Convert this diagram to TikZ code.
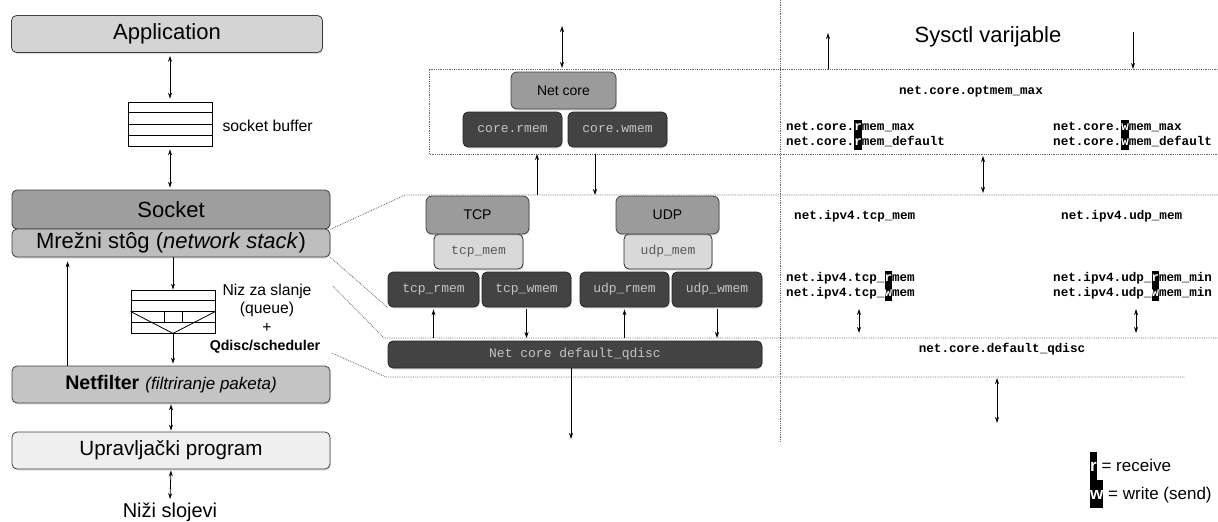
\documentclass[tikz,border=0pt]{standalone}
\usepackage{fontspec}
\setmainfont{Liberation Sans}
\setmonofont{Liberation Mono}
\usetikzlibrary{arrows.meta,calc,shadows}
\definecolor{appgray}{HTML}{D4D4D4}
\definecolor{sockgray}{HTML}{9E9E9E}
\definecolor{stackgray}{HTML}{BDBDBD}
\definecolor{filtgray}{HTML}{C4C4C4}
\definecolor{drvgray}{HTML}{EFEFEF}
\definecolor{netgray}{HTML}{9B9B9B}
\definecolor{memdark}{HTML}{434343}
\definecolor{memtext}{HTML}{C4C4C4}
\definecolor{memlight}{HTML}{D9D9D9}
% white letter on a black bar
\newcommand{\hlch}[1]{{\setlength{\fboxsep}{0pt}\colorbox{black}{\textcolor{white}{\strut #1}}}}
\begin{document}
\begin{tikzpicture}[x=1pt,y=-1pt,
  softshadow/.style={drop shadow={shadow xshift=0.8pt,shadow yshift=-1.5pt,opacity=0.25}},
  lbox/.style={draw=black!75,line width=0.8pt,rounded corners=5pt,minimum width=318pt,minimum height=37pt,inner sep=0pt,softshadow,font=\fontsize{22}{26}\selectfont},
  gbox/.style={draw=black!75,line width=0.8pt,rounded corners=6pt,fill=netgray,minimum width=103pt,minimum height=38pt,inner sep=0pt,softshadow,font=\fontsize{14}{17}\selectfont},
  dbox/.style={draw=black!85,line width=0.8pt,rounded corners=5pt,fill=memdark,text=memtext,minimum height=35pt,inner sep=0pt,softshadow,font=\ttfamily\fontsize{13}{16}\selectfont},
  lmem/.style={dbox,fill=memlight,text=black!65},
  sysvar/.style={anchor=west,inner sep=0pt,align=left,font=\ttfamily\bfseries\fontsize{12.6}{15}\selectfont},
  sepline/.style={densely dotted,black!60,line width=0.8pt},
  biarrow/.style={{Stealth[length=6pt,width=4pt]}-{Stealth[length=6pt,width=4pt]},line width=0.8pt},
  onearrow/.style={-{Stealth[length=6pt,width=4pt]},line width=0.8pt}]
  \useasboundingbox (0,0) rectangle (1218,522);
  % dotted bands
  \coordinate (coreTL) at (429,69);
  \coordinate (coreTR) at (1218,69);
  \coordinate (coreBL) at (429,154);
  \coordinate (coreBR) at (1218,154);
  \coordinate (tcpTL) at (405,195);
  \coordinate (tcpTR) at (1218,195);
  \coordinate (qdTL) at (384,338);
  \coordinate (qdTR) at (1218,338);
  \coordinate (qdBL) at (386,377);
  \coordinate (qdBR) at (1185,377);
  \coordinate (sepT) at (780,0);
  \coordinate (sepB) at (780,442);
  \draw[sepline] (sepT) -- (sepB);
  \draw[sepline] (coreTR) -- (coreTL) -- (coreBL) -- (coreBR);
  % left column
  \node[lbox,fill=appgray,minimum width=311pt] (app) at (167,34) {Application};
  \node[draw,line width=0.8pt,minimum width=84pt,minimum height=44pt,inner sep=0pt] (sockbuf) at (170,124) {};
  \foreach \k in {1,2,3}
    \draw[line width=0.8pt] ($(sockbuf.north west)!\k/4!(sockbuf.south west)$) -- ($(sockbuf.north east)!\k/4!(sockbuf.south east)$);
  \node[anchor=west,font=\fontsize{15.8}{19}\selectfont] (sbtext) at (219,126) {socket buffer};
  \node[lbox,fill=sockgray,minimum height=39pt] (socket) at (171,209.5) {Socket};
  \node[lbox,fill=stackgray,minimum height=28pt] (netstack) at (171,243) {Mrežni stôg (\textit{network stack})};
  \node[draw,line width=0.8pt,minimum width=84pt,minimum height=43pt,inner sep=0pt] (queue) at (173,311.5) {};
  \foreach \k in {1,2,3}
    \draw[line width=0.8pt] ($(queue.north west)!\k/4!(queue.south west)$) -- ($(queue.north east)!\k/4!(queue.south east)$);
  \draw[line width=0.8pt] (queue.west) -- (queue.south) -- (queue.east);
  \foreach \dx in {-9,9}
    \draw[line width=0.8pt] ([xshift=\dx pt]queue.center) -- ([xshift=\dx pt,yshift=-10.75pt]queue.center);
  \node[align=center,font=\fontsize{15.7}{18.5}\selectfont] (qtext) at (267,308) {Niz za slanje\\(queue)\\+};
  \node[font=\bfseries\fontsize{14.2}{17}\selectfont] (qsched) at (265,347) {Qdisc/scheduler};
  \node[lbox,fill=filtgray] (netfilter) at (171,384.5) {{\fontsize{19.6}{24}\selectfont\textbf{Netfilter}} {\fontsize{17}{22}\selectfont\itshape(filtriranje paketa)}};
  \node[lbox,fill=drvgray,font=\fontsize{20.6}{24}\selectfont] (driver) at (171,450.5) {Upravljački program};
  \node[font=\fontsize{20}{24}\selectfont] (lower) at (170,512) {Niži slojevi};
  \draw[biarrow,shorten <=3pt,shorten >=3pt] (app.south -| sockbuf.north) -- (sockbuf.north);
  \draw[biarrow,shorten <=3pt,shorten >=2pt] (sockbuf.south) -- (sockbuf.south |- socket.north);
  \draw[onearrow] (netstack.south -| queue.north) -- (queue.north);
  \draw[onearrow,shorten >=2pt] (queue.south) -- (queue.south |- netfilter.north);
  \draw[onearrow,shorten >=4pt] ([xshift=56pt]netfilter.north west) -- ([xshift=56pt]netstack.south west);
  \draw[biarrow,shorten <=1pt,shorten >=1pt] (netfilter.south) -- (driver.north);
  \draw[biarrow,shorten <=1pt] (driver.south) -- (lower.north);
  % middle column
  \node[gbox,minimum width=105pt,minimum height=37pt] (netcore) at (563.5,90.5) {Net core};
  \node[dbox,minimum width=99pt] (corermem) at (512.5,129.5) {core.rmem};
  \node[dbox,minimum width=99pt] (corewmem) at (617.5,129.5) {core.wmem};
  \node[lmem,minimum width=89pt] (tcpmem) at (478.5,251.5) {tcp\_mem};
  \node[gbox] (tcp) at (477.5,215) {TCP};
  \node[lmem,minimum width=88pt] (udpmem) at (668,251.5) {udp\_mem};
  \node[gbox] (udp) at (667.5,215) {UDP};
  \node[dbox,minimum width=91pt] (tcprmem) at (433.5,289.5) {tcp\_rmem};
  \node[dbox,minimum width=89pt] (tcpwmem) at (526.5,289.5) {tcp\_wmem};
  \node[dbox,minimum width=89pt] (udprmem) at (624.5,289.5) {udp\_rmem};
  \node[dbox,minimum width=90pt] (udpwmem) at (717,289.5) {udp\_wmem};
  \node[dbox,minimum width=374pt,minimum height=27pt] (qdisc) at (575,354.5) {Net core default\_qdisc};
  \draw[sepline] (socket.south east) -- (tcpTL) -- (tcpTR);
  \draw[sepline] (netstack.south east) -- (tcprmem.south west);
  \draw[sepline] ([shift={(18pt,-6pt)}]qtext.north east) -- (qdTL) -- (qdTR);
  \draw[sepline] ([shift={(8pt,-6pt)}]qsched.east) -- (qdBL) -- (qdBR);
  \coordinate (corein) at (562,26);
  \draw[biarrow,shorten >=1pt] (corein) -- (corein |- coreTL);
  \coordinate (rxup) at (537,195);
  \draw[onearrow] (rxup) -- (rxup |- coreBL);
  \coordinate (txdown) at (595,154);
  \draw[onearrow] (txdown) -- (txdown |- tcpTL);
  \draw[onearrow,shorten >=2pt] (tcprmem.south |- qdTL) -- (tcprmem.south);
  \draw[onearrow,shorten <=2pt] (tcpwmem.south) -- (tcpwmem.south |- qdTL);
  \draw[onearrow,shorten >=2pt] (udprmem.south |- qdTL) -- (udprmem.south);
  \draw[onearrow,shorten <=2pt] (udpwmem.south) -- (udpwmem.south |- qdTL);
  \coordinate (qdout) at (571,439);
  \draw[onearrow] (qdisc.south -| qdout) -- (qdout);
  % right column: sysctl names
  \node[font=\fontsize{22}{26}\selectfont] (systitle) at (988,37) {Sysctl varijable};
  \coordinate (sysup) at (828,33);
  \draw[onearrow] (sysup |- coreTL) -- (sysup);
  \coordinate (sysdown) at (1133,32);
  \draw[onearrow] (sysdown) -- (sysdown |- coreTL);
  \node[sysvar,anchor=center] (optmem) at (971,92) {net.core.optmem\_max};
  \node[sysvar] (corer) at (786,134.5) {net.core.\hlch{r}mem\_max\\net.core.\hlch{r}mem\_default};
  \node[sysvar] (corew) at (1053,134.5) {net.core.\hlch{w}mem\_max\\net.core.\hlch{w}mem\_default};
  \coordinate (sysmid) at (983,154);
  \draw[biarrow,shorten <=2pt,shorten >=2pt] (sysmid) -- (sysmid |- tcpTL);
  \node[sysvar] (tcpmemvar) at (794,216) {net.ipv4.tcp\_mem};
  \node[sysvar] (udpmemvar) at (1061,216) {net.ipv4.udp\_mem};
  \node[sysvar] (tcprw) at (786,285.5) {net.ipv4.tcp\_\hlch{r}mem\\net.ipv4.tcp\_\hlch{w}mem};
  \node[sysvar] (udprw) at (1053,285.5) {net.ipv4.udp\_\hlch{r}mem\_min\\net.ipv4.udp\_\hlch{w}mem\_min};
  \coordinate (tcpvar) at (859,309);
  \draw[biarrow,shorten >=5pt] (tcpvar) -- (tcpvar |- qdTL);
  \coordinate (udpvar) at (1136,309);
  \draw[biarrow,shorten >=5pt] (udpvar) -- (udpvar |- qdTL);
  \node[sysvar,anchor=center] (qdvar) at (1002,349) {net.core.default\_qdisc};
  \coordinate (qdvarout) at (997,423);
  \draw[biarrow,shorten <=1pt] (qdvarout |- qdBL) -- (qdvarout);
  % legend
  \node[anchor=west,inner sep=0pt,align=left,font=\fontsize{17}{28}\selectfont] (legend) at (1090,480) {\hlch{\textbf{r}} = receive\\\hlch{\textbf{w}} = write (send)};
\end{tikzpicture}
\end{document}
